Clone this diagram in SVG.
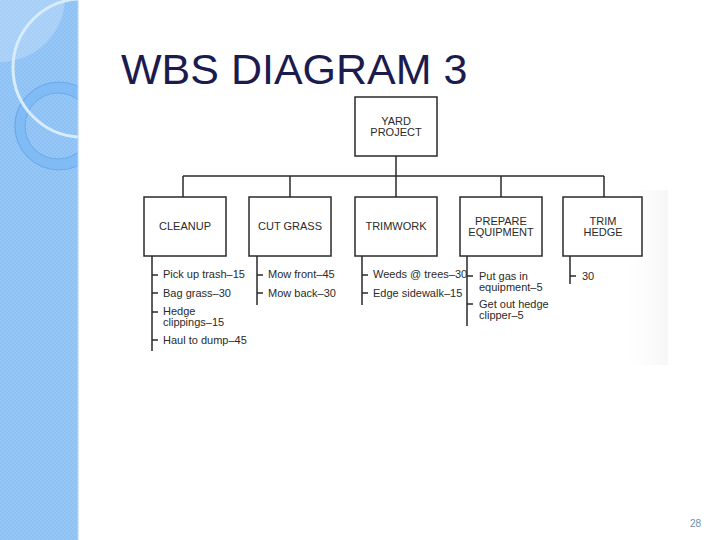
<svg xmlns="http://www.w3.org/2000/svg" width="720" height="540" viewBox="0 0 720 540">
<style>
.box{fill:#fff;stroke:#2a2a2a;stroke-width:1.5}
.bt{font-family:"Liberation Sans",Arial,sans-serif;font-size:11px;fill:#2a2a2a;text-anchor:middle}
.lt{font-family:"Liberation Sans",Arial,sans-serif;font-size:11px;fill:#2a2a2a}
.ln{stroke:#2a2a2a;stroke-width:1.5;fill:none}
</style>
<defs>
<pattern id="dith" width="4" height="4" patternUnits="userSpaceOnUse">
<rect width="4" height="4" fill="#8dc1f4"/>
<rect width="2" height="2" fill="#97c7f6"/>
<rect x="2" y="2" width="2" height="2" fill="#97c7f6"/>
</pattern>
<clipPath id="strip"><rect x="0" y="0" width="78" height="540"/></clipPath>
<linearGradient id="gr" x1="0" y1="0" x2="1" y2="0">
<stop offset="0" stop-color="#f4f4f4" stop-opacity="0"/>
<stop offset="1" stop-color="#ececec" stop-opacity="1"/>
</linearGradient>
<linearGradient id="gv" x1="0" y1="0" x2="0" y2="1">
<stop offset="0" stop-color="#fff" stop-opacity="0"/>
<stop offset="1" stop-color="#fff" stop-opacity="0"/>
</linearGradient>
</defs>
<rect width="720" height="540" fill="#fff"/>
<g id="sidebar">
<rect x="0" y="0" width="78" height="540" fill="url(#dith)"/>
<g clip-path="url(#strip)">
<circle cx="0" cy="-3" r="65" fill="#ffffff" fill-opacity="0.22"/>
<circle cx="58" cy="126" r="38.5" fill="none" stroke="#80bbf6" stroke-width="11"/>
<circle cx="59" cy="126" r="44" fill="none" stroke="#5e9fdf" stroke-width="0.7"/>
<circle cx="58" cy="126" r="33" fill="none" stroke="#5e9fdf" stroke-width="0.7"/>
<circle cx="82" cy="68" r="69" fill="none" stroke="#d8ecfc" stroke-width="3"/>
</g>
<line x1="78" y1="0" x2="78" y2="540" stroke="#b5d6f5" stroke-width="1"/>
</g>
<text id="title" x="121" y="84" font-family="Liberation Sans,Arial,sans-serif" font-size="43" fill="#1b1b4f">WBS DIAGRAM 3</text>
<rect x="625" y="190" width="43" height="175" fill="url(#gr)" opacity="0.45"/>
<g id="connectors">
<line class="ln" x1="396" y1="156" x2="396" y2="197"/>
<line class="ln" x1="183" y1="176" x2="604" y2="176"/>
<line class="ln" x1="183" y1="176" x2="183" y2="197"/>
<line class="ln" x1="290" y1="176" x2="290" y2="197"/>
<line class="ln" x1="501" y1="176" x2="501" y2="197"/>
<line class="ln" x1="604" y1="176" x2="604" y2="197"/>
<path class="ln" d="M152 256V351M152 275h6M152 293h6M152 312h6M152 340h6"/>
<path class="ln" d="M257 256V305M257 275h6M257 293h6"/>
<path class="ln" d="M362 256V305M362 275h6M362 293h6"/>
<path class="ln" d="M467 256V326M467 276h6M467 304h6"/>
<path class="ln" d="M570 256V284M570 276h6"/>
</g>
<g id="yard">
<rect class="box" x="355" y="97" width="82" height="59"/>
<text class="bt" x="396" y="125">YARD</text>
<text class="bt" x="396" y="136">PROJECT</text>
</g>
<g id="cleanup">
<rect class="box" x="144" y="197" width="82" height="59"/>
<text class="bt" x="185" y="230">CLEANUP</text>
<text class="lt" x="163" y="278">Pick up trash–15</text>
<text class="lt" x="163" y="297">Bag grass–30</text>
<text class="lt" x="163" y="315">Hedge</text>
<text class="lt" x="163" y="326">clippings–15</text>
<text class="lt" x="163" y="344">Haul to dump–45</text>
</g>
<g id="cutgrass">
<rect class="box" x="249" y="197" width="82" height="59"/>
<text class="bt" x="290" y="230">CUT GRASS</text>
<text class="lt" x="268" y="278">Mow front–45</text>
<text class="lt" x="268" y="297">Mow back–30</text>
</g>
<g id="trimwork">
<rect class="box" x="355" y="197" width="82" height="59"/>
<text class="bt" x="396" y="230">TRIMWORK</text>
<text class="lt" x="373" y="278">Weeds @ trees–30</text>
<text class="lt" x="373" y="297">Edge sidewalk–15</text>
</g>
<g id="prepare">
<rect class="box" x="460" y="197" width="82" height="59"/>
<text class="bt" x="501" y="225">PREPARE</text>
<text class="bt" x="501" y="236">EQUIPMENT</text>
<text class="lt" x="479" y="280">Put gas in</text>
<text class="lt" x="479" y="291">equipment–5</text>
<text class="lt" x="479" y="308">Get out hedge</text>
<text class="lt" x="479" y="319">clipper–5</text>
</g>
<g id="trimhedge">
<rect class="box" x="563" y="197" width="79" height="59"/>
<text class="bt" x="603" y="225">TRIM</text>
<text class="bt" x="603" y="236">HEDGE</text>
<text class="lt" x="582" y="280">30</text>
</g>
<text id="page" x="690" y="527" font-family="Liberation Sans,Arial,sans-serif" font-size="10" fill="#6b8fb0">28</text>
</svg>
